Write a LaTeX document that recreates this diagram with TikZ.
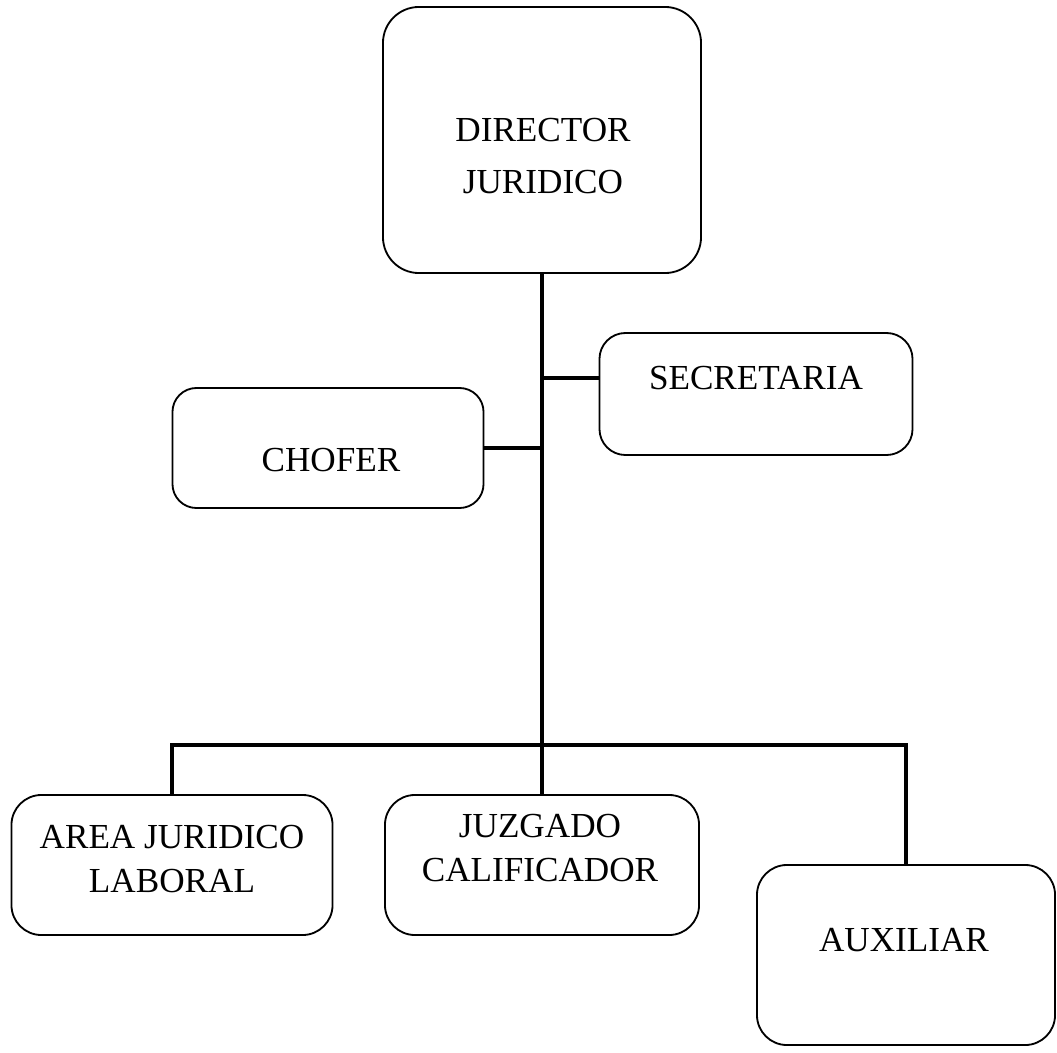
\documentclass[tikz,border=0pt]{standalone}
\usepackage{fontspec}
\setmainfont{Liberation Serif}
\tikzset{
  cargo/.style={draw, line width=1.3pt, rounded corners=0.75cm, inner sep=0pt},
  rotulo/.style={font=\fontsize{25}{31}\selectfont, align=center, inner sep=0pt},
  tronco/.style={line width=3.2pt},
  rama/.style={line width=2.3pt},
}
\begin{document}
\begin{tikzpicture}[x=0.025cm, y=-0.025cm]
  \useasboundingbox (0,0) rectangle (1057,1052);
  % cajas
  \node[cargo, rounded corners=0.9cm, minimum width=7.95cm, minimum height=6.65cm] (dir) at (542,140) {};
  \node[cargo, rounded corners=0.65cm, minimum width=7.825cm, minimum height=3.05cm] (sec) at (756,394) {};
  \node[cargo, rounded corners=0.6cm, minimum width=7.775cm, minimum height=3cm] (cho) at (328,448) {};
  \node[cargo, minimum width=8.025cm, minimum height=3.5cm] (area) at (172,865) {};
  \node[cargo, minimum width=7.85cm, minimum height=3.5cm] (juz) at (542,865) {};
  \node[cargo, minimum width=7.45cm, minimum height=4.5cm] (aux) at (906,955) {};
  % textos
  \node[rotulo] (dirtxt) at (543,156) {DIRECTOR\\[6pt]JURIDICO};
  \node[rotulo] (sectxt) at (756,378) {SECRETARIA};
  \node[rotulo] (chotxt) at (331,460) {CHOFER};
  \node[rotulo] (areatxt) at (172,859) {AREA JURIDICO\\LABORAL};
  \node[rotulo] (juztxt) at (540,848) {JUZGADO\\CALIFICADOR};
  \node[rotulo] (auxtxt) at (904,940) {AUXILIAR};
  % lineas
  \coordinate (bus) at (542,745);
  \coordinate (rsec) at (542,378);
  \draw[tronco] (dir.south) -- (juz.north);
  \draw[rama] (rsec) -- (rsec -| sec.west);
  \draw[rama] (cho.east) -- (cho.east -| dir.south);
  \draw[tronco] (area.north) |- (bus) -| (aux.north);
\end{tikzpicture}
\end{document}
